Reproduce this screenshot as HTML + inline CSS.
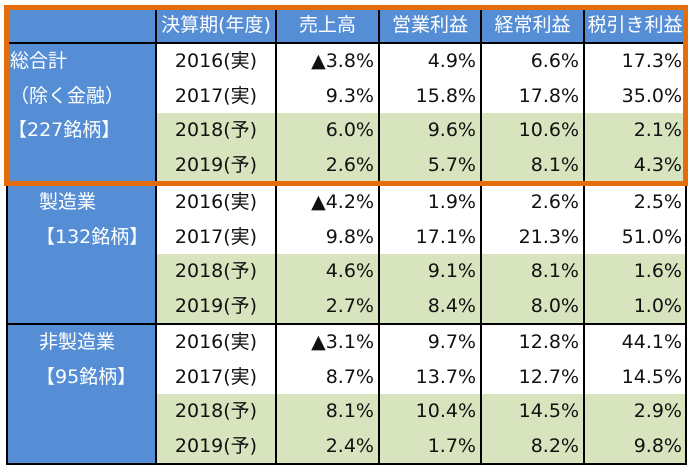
<!DOCTYPE html>
<html>
<head>
<meta charset="utf-8">
<style>
  html, body { margin:0; padding:0; }
  body { width:692px; height:469px; position:relative; background:#fff; overflow:hidden;
         font-family:"DejaVu Sans","Noto Sans CJK JP",sans-serif; font-size:19px; color:#111; }
  .a { position:absolute; }
  .blk { position:absolute; background:#000; }
  .row { position:absolute; left:0; width:692px; }
  .row div { position:absolute; top:0; height:100%; white-space:nowrap; }
  .y { left:157px; width:118px; text-align:center; }
  .c1 { left:277px; width:97px; text-align:right; padding-right:4px; }
  .c2 { left:380px; width:96px; text-align:right; padding-right:4px; }
  .c3 { left:482px; width:97px; text-align:right; padding-right:4px; }
  .c4 { left:585px; width:97px; text-align:right; padding-right:3px; }
  .lab { color:#fff; }
  .hd { position:absolute; top:9px; height:33px; line-height:33px; color:#fff; text-align:center; white-space:nowrap; }
</style>
</head>
<body>
<!-- backgrounds -->
<div class="a" style="left:8px;top:9px;width:677px;height:33px;background:#558ED5;"></div>
<div class="a" style="left:8px;top:44px;width:147px;height:419px;background:#558ED5;"></div>
<div class="a" style="left:157px;top:113px;width:528px;height:70px;background:#D7E4BD;"></div>
<div class="a" style="left:157px;top:254px;width:528px;height:69px;background:#D7E4BD;"></div>
<div class="a" style="left:157px;top:394px;width:528px;height:69px;background:#D7E4BD;"></div>

<!-- grid lines -->
<div class="blk" style="left:6px;top:7px;width:681px;height:2px;"></div>
<div class="blk" style="left:6px;top:7px;width:2px;height:458px;"></div>
<div class="blk" style="left:685px;top:7px;width:2px;height:458px;"></div>
<div class="blk" style="left:6px;top:463px;width:681px;height:2px;"></div>
<div class="blk" style="left:8px;top:42px;width:677px;height:2px;"></div>
<div class="blk" style="left:8px;top:183px;width:677px;height:2px;"></div>
<div class="blk" style="left:8px;top:323px;width:677px;height:2px;"></div>
<div class="blk" style="left:155px;top:9px;width:2px;height:454px;"></div>
<div class="blk" style="left:275px;top:9px;width:2px;height:454px;"></div>
<div class="blk" style="left:378px;top:9px;width:2px;height:454px;"></div>
<div class="blk" style="left:480px;top:9px;width:2px;height:454px;"></div>
<div class="blk" style="left:583px;top:9px;width:2px;height:454px;"></div>

<!-- header -->
<div class="hd" style="left:157px;width:118px;">決算期(年度)</div>
<div class="hd" style="left:277px;width:101px;">売上高</div>
<div class="hd" style="left:380px;width:100px;">営業利益</div>
<div class="hd" style="left:482px;width:101px;">経常利益</div>
<div class="hd" style="left:585px;width:100px;">税引き利益</div>

<!-- section 1 -->
<div class="row" style="top:44px;height:35px;line-height:35px;">
  <div class="lab" style="left:10px;">総合計</div>
  <div class="y">2016(実)</div><div class="c1">▲3.8%</div><div class="c2">4.9%</div><div class="c3">6.6%</div><div class="c4">17.3%</div>
</div>
<div class="row" style="top:79px;height:34px;line-height:34px;">
  <div class="lab" style="left:10px;">（除く金融）</div>
  <div class="y">2017(実)</div><div class="c1">9.3%</div><div class="c2">15.8%</div><div class="c3">17.8%</div><div class="c4">35.0%</div>
</div>
<div class="row" style="top:113px;height:35px;line-height:35px;">
  <div class="lab" style="left:8px;">【227銘柄】</div>
  <div class="y">2018(予)</div><div class="c1">6.0%</div><div class="c2">9.6%</div><div class="c3">10.6%</div><div class="c4">2.1%</div>
</div>
<div class="row" style="top:148px;height:35px;line-height:35px;">
  <div class="y">2019(予)</div><div class="c1">2.6%</div><div class="c2">5.7%</div><div class="c3">8.1%</div><div class="c4">4.3%</div>
</div>

<!-- section 2 -->
<div class="row" style="top:185px;height:35px;line-height:35px;">
  <div class="lab" style="left:39px;">製造業</div>
  <div class="y">2016(実)</div><div class="c1">▲4.2%</div><div class="c2">1.9%</div><div class="c3">2.6%</div><div class="c4">2.5%</div>
</div>
<div class="row" style="top:220px;height:34px;line-height:34px;">
  <div class="lab" style="left:36px;">【132銘柄】</div>
  <div class="y">2017(実)</div><div class="c1">9.8%</div><div class="c2">17.1%</div><div class="c3">21.3%</div><div class="c4">51.0%</div>
</div>
<div class="row" style="top:254px;height:35px;line-height:35px;">
  <div class="y">2018(予)</div><div class="c1">4.6%</div><div class="c2">9.1%</div><div class="c3">8.1%</div><div class="c4">1.6%</div>
</div>
<div class="row" style="top:289px;height:34px;line-height:34px;">
  <div class="y">2019(予)</div><div class="c1">2.7%</div><div class="c2">8.4%</div><div class="c3">8.0%</div><div class="c4">1.0%</div>
</div>

<!-- section 3 -->
<div class="row" style="top:325px;height:35px;line-height:35px;">
  <div class="lab" style="left:39px;">非製造業</div>
  <div class="y">2016(実)</div><div class="c1">▲3.1%</div><div class="c2">9.7%</div><div class="c3">12.8%</div><div class="c4">44.1%</div>
</div>
<div class="row" style="top:360px;height:34px;line-height:34px;">
  <div class="lab" style="left:36px;">【95銘柄】</div>
  <div class="y">2017(実)</div><div class="c1">8.7%</div><div class="c2">13.7%</div><div class="c3">12.7%</div><div class="c4">14.5%</div>
</div>
<div class="row" style="top:394px;height:35px;line-height:35px;">
  <div class="y">2018(予)</div><div class="c1">8.1%</div><div class="c2">10.4%</div><div class="c3">14.5%</div><div class="c4">2.9%</div>
</div>
<div class="row" style="top:429px;height:34px;line-height:34px;">
  <div class="y">2019(予)</div><div class="c1">2.4%</div><div class="c2">1.7%</div><div class="c3">8.2%</div><div class="c4">9.8%</div>
</div>

<!-- orange highlight -->
<div class="a" style="left:4px;top:5px;width:684px;height:181px;box-sizing:border-box;border:5px solid #E46C0A;"></div>
</body>
</html>
